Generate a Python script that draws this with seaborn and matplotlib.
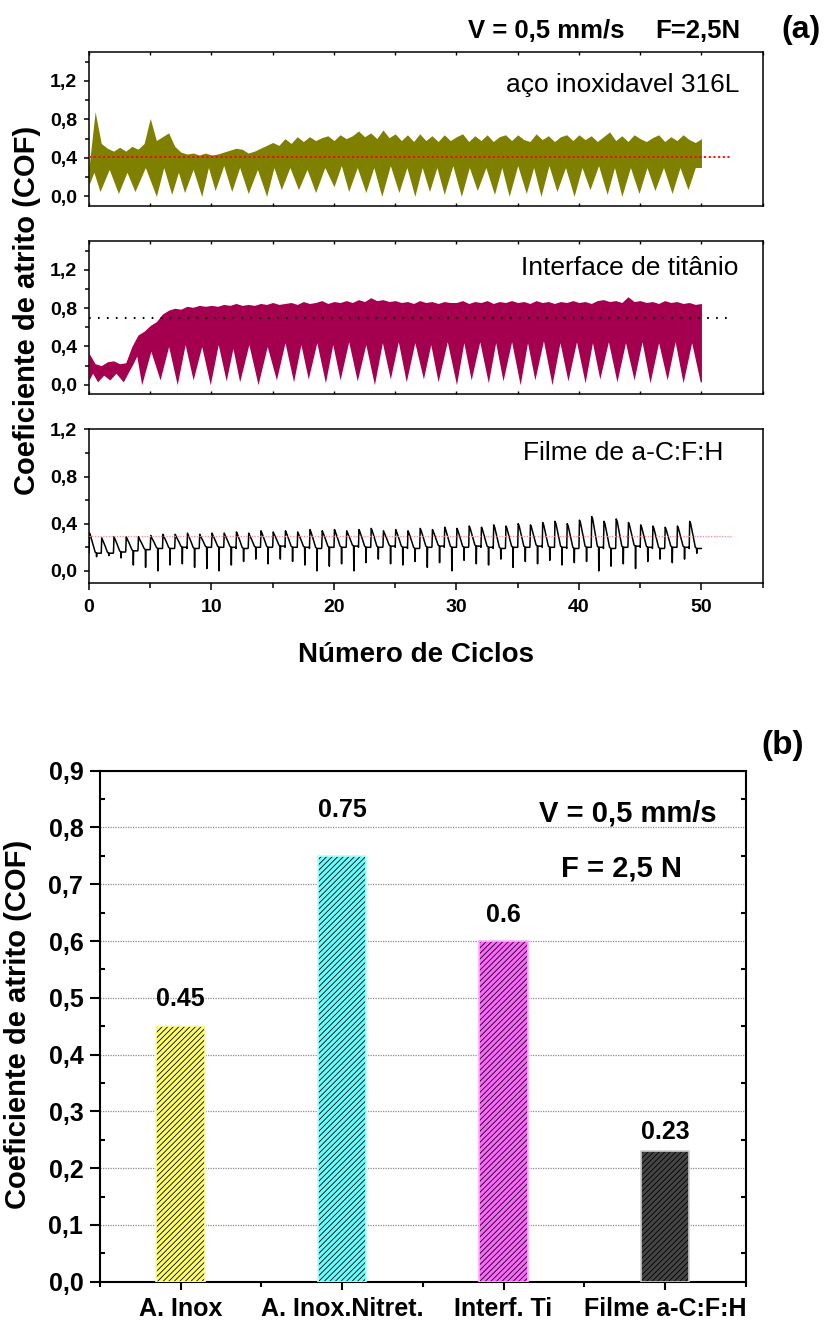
import numpy as np
import pandas as pd
import matplotlib
matplotlib.use("Agg")
import matplotlib.pyplot as plt
from matplotlib.ticker import MultipleLocator, FuncFormatter
import seaborn as sns

# ---------------- data ----------------
# (a) friction coefficient vs. number of cycles
cycle_grid = np.arange(0, 50.01, 0.5)

# aço inoxidável 316L: upper envelope of the COF band (every half cycle)
steel_upper = [
    0.30, 0.88, 0.55, 0.50, 0.47, 0.51, 0.47, 0.52, 0.49, 0.55,
    0.81, 0.58, 0.62, 0.66, 0.52, 0.46, 0.44, 0.45, 0.43, 0.45,
    0.43, 0.44, 0.46, 0.48, 0.50, 0.49, 0.45, 0.47, 0.50, 0.53,
    0.56, 0.53, 0.60, 0.55, 0.62, 0.57, 0.62, 0.58, 0.61, 0.63,
    0.58, 0.64, 0.60, 0.63, 0.68, 0.62, 0.66, 0.60, 0.69, 0.61,
    0.65, 0.58, 0.64, 0.57, 0.65, 0.58, 0.63, 0.57, 0.64, 0.58,
    0.62, 0.65, 0.57, 0.63, 0.58, 0.64, 0.57, 0.62, 0.64, 0.58,
    0.64, 0.59, 0.57, 0.65, 0.59, 0.63, 0.57, 0.62, 0.64, 0.58,
    0.64, 0.59, 0.63, 0.57, 0.62, 0.67, 0.58, 0.63, 0.57, 0.64,
    0.60, 0.57, 0.61, 0.64, 0.57, 0.62, 0.58, 0.64, 0.59, 0.56,
    0.60]
# lower edge of the band: alternating ridges and stick-slip dips
steel_lo_x = [
    0.0, 0.4, 0.9, 1.65, 2.4, 3.1, 3.75, 4.6, 5.5, 6.1, 6.75, 7.3, 7.8, 8.5,
    9.2, 9.75, 10.3, 11.0, 11.65, 12.3, 13.0, 13.75, 14.5, 15.1, 15.7, 16.4,
    17.1, 17.8, 18.5, 19.25, 20.0, 20.6, 21.2, 21.9, 22.6, 23.25, 23.9, 24.6,
    25.3, 25.95, 26.6, 27.2, 27.8, 28.4, 29.0, 29.7, 30.4, 31.05, 31.7, 32.4,
    33.1, 33.7, 34.3, 35.0, 35.7, 36.3, 36.9, 37.55, 38.2, 38.9, 39.6, 40.25,
    40.9, 41.6, 42.3, 42.9, 43.5, 44.2, 44.9, 45.55, 46.2, 46.9, 47.6, 48.25,
    48.9, 49.5, 50.0]
steel_lo_y = [
    0.12, 0.25, 0.05, 0.28, 0.03, 0.25, 0.05, 0.30, 0.00, 0.30, 0.02, 0.25,
    0.04, 0.28, 0.00, 0.30, 0.06, 0.32, 0.05, 0.30, 0.03, 0.28, 0.00, 0.30,
    0.07, 0.30, 0.07, 0.28, 0.04, 0.30, 0.10, 0.32, 0.05, 0.30, 0.04, 0.30,
    0.00, 0.32, 0.04, 0.30, 0.00, 0.30, 0.05, 0.30, 0.02, 0.32, 0.00, 0.30,
    0.06, 0.30, 0.02, 0.30, 0.00, 0.32, 0.03, 0.30, 0.00, 0.32, 0.05, 0.30,
    0.00, 0.30, 0.07, 0.32, 0.02, 0.30, 0.00, 0.30, 0.03, 0.30, 0.06, 0.30,
    0.03, 0.30, 0.07, 0.30, 0.30]

# interface de titânio
ti_upper = [
    0.33, 0.22, 0.20, 0.24, 0.25, 0.22, 0.23, 0.40, 0.52, 0.56,
    0.62, 0.66, 0.74, 0.78, 0.80, 0.79, 0.82, 0.81, 0.83, 0.82,
    0.83, 0.82, 0.84, 0.83, 0.85, 0.83, 0.84, 0.83, 0.85, 0.84,
    0.86, 0.84, 0.85, 0.86, 0.84, 0.87, 0.85, 0.86, 0.88, 0.85,
    0.87, 0.86, 0.88, 0.86, 0.89, 0.87, 0.91, 0.88, 0.89, 0.87,
    0.88, 0.86, 0.87, 0.85, 0.88, 0.86, 0.87, 0.85, 0.87, 0.86,
    0.86, 0.88, 0.85, 0.87, 0.86, 0.88, 0.85, 0.87, 0.86, 0.88,
    0.86, 0.87, 0.85, 0.88, 0.86, 0.87, 0.85, 0.87, 0.86, 0.88,
    0.86, 0.87, 0.85, 0.88, 0.89, 0.87, 0.88, 0.86, 0.92, 0.87,
    0.88, 0.86, 0.87, 0.85, 0.88, 0.86, 0.87, 0.85, 0.86, 0.84,
    0.85]
ti_lo_x = [
    0.0, 0.3, 0.7, 1.2, 1.7, 2.2, 2.8, 3.3, 3.6, 3.9, 4.3, 5.05, 5.8, 6.5,
    7.2, 7.85, 8.5, 9.2, 9.9, 10.55, 11.2, 11.75, 12.3, 13.05, 13.8, 14.55,
    15.3, 16.0, 16.7, 17.3, 17.9, 18.6, 19.3, 19.9, 20.5, 21.2, 21.9, 22.6,
    23.3, 23.95, 24.6, 25.25, 25.9, 26.6, 27.3, 27.9, 28.5, 29.25, 30.0, 30.6,
    31.2, 31.9, 32.6, 33.2, 33.8, 34.5, 35.2, 35.8, 36.4, 37.1, 37.8, 38.45,
    39.1, 39.8, 40.5, 41.1, 41.7, 42.4, 43.1, 43.8, 44.5, 45.15, 45.8, 46.5,
    47.2, 47.85, 48.5, 49.2, 49.9, 50.0]
ti_lo_y = [
    0.05, 0.12, 0.03, 0.10, 0.05, 0.12, 0.03, 0.15, 0.22, 0.30, 0.00, 0.35,
    0.05, 0.40, 0.00, 0.42, 0.05, 0.40, 0.00, 0.42, 0.04, 0.38, 0.03, 0.42,
    0.00, 0.40, 0.05, 0.44, 0.03, 0.42, 0.06, 0.44, 0.02, 0.42, 0.05, 0.45,
    0.04, 0.42, 0.00, 0.44, 0.06, 0.45, 0.03, 0.44, 0.06, 0.42, 0.03, 0.45,
    0.00, 0.44, 0.05, 0.45, 0.02, 0.44, 0.04, 0.45, 0.00, 0.44, 0.05, 0.46,
    0.00, 0.44, 0.04, 0.45, 0.02, 0.44, 0.06, 0.45, 0.03, 0.44, 0.05, 0.45,
    0.02, 0.44, 0.05, 0.45, 0.02, 0.44, 0.03, 0.03]

# filme de a-C:F:H: per-cycle peak, plateau and dip of the stick-slip trace
film_peak = [
    0.32, 0.28, 0.29, 0.29, 0.29, 0.30, 0.31, 0.31, 0.32, 0.31,
    0.32, 0.32, 0.33, 0.32, 0.34, 0.33, 0.34, 0.33, 0.35, 0.34,
    0.35, 0.34, 0.35, 0.36, 0.34, 0.35, 0.34, 0.36, 0.35, 0.37,
    0.36, 0.38, 0.37, 0.39, 0.38, 0.40, 0.39, 0.41, 0.42, 0.40,
    0.43, 0.46, 0.42, 0.44, 0.41, 0.39, 0.38, 0.37, 0.38, 0.42]
film_plateau = [
    0.15, 0.15, 0.16, 0.17, 0.18, 0.19, 0.19, 0.20, 0.19, 0.20,
    0.20, 0.20, 0.19, 0.20, 0.20, 0.21, 0.20, 0.20, 0.19, 0.20,
    0.20, 0.21, 0.20, 0.20, 0.21, 0.20, 0.19, 0.20, 0.21, 0.20,
    0.20, 0.21, 0.20, 0.19, 0.20, 0.20, 0.21, 0.20, 0.20, 0.19,
    0.20, 0.20, 0.19, 0.20, 0.21, 0.20, 0.19, 0.20, 0.20, 0.19]
film_dip = [
    0.12, 0.13, 0.11, 0.05, 0.03, 0.00, 0.05, 0.06, 0.03, 0.02,
    0.00, 0.05, 0.08, 0.10, 0.06, 0.10, 0.08, 0.05, 0.00, 0.04,
    0.06, 0.00, 0.07, 0.10, 0.06, 0.05, 0.08, 0.03, 0.07, 0.00,
    0.09, 0.06, 0.05, 0.10, 0.03, 0.08, 0.06, 0.09, 0.05, 0.07,
    0.08, 0.00, 0.04, 0.06, 0.02, 0.08, 0.10, 0.07, 0.10, 0.15]

# mean COF of each test and the span of its reference line
panel_labels = ["aço inoxidavel 316L", "Interface de titânio", "Filme de a-C:F:H"]
cof_mean = [0.41, 0.70, 0.30]
mean_span = [0.0, 52.5]

# (b) mean friction coefficient per sample
bar_categories = ["A. Inox", "A. Inox.Nitret.", "Interf. Ti", "Filme a-C:F:H"]
bar_values = [0.45, 0.75, 0.6, 0.23]

# ---------------- style ----------------
sns.set_theme(style="ticks")
plt.rcParams["font.family"] = ["Liberation Sans", "DejaVu Sans"]
plt.rcParams["hatch.linewidth"] = 0.6
plt.rcParams["axes.linewidth"] = 1.1
for key in ("text.color", "axes.labelcolor", "xtick.color", "ytick.color",
            "xtick.labelcolor", "ytick.labelcolor", "axes.edgecolor"):
    plt.rcParams[key] = "black"

W, H = 827, 1320
fig = plt.figure(figsize=(W / 100, H / 100), dpi=100)


def box(left, top, right, bottom):
    return [left / W, 1 - bottom / H, (right - left) / W, (bottom - top) / H]


comma = FuncFormatter(lambda v, p: f"{v:.1f}".replace(".", ","))

ax1 = fig.add_axes(box(89, 52, 762.7, 206))
ax2 = fig.add_axes(box(89, 241.3, 762.7, 394.3))
ax3 = fig.add_axes(box(89, 429.3, 762.7, 582.7))
axb = fig.add_axes(box(100, 770.7, 745.7, 1281.7))

steel_color = "#808000"
ti_color = "#A50050"


def draw_band(ax, upper, lo_x, lo_y, color):
    xf = np.linspace(0, 50, 6001)
    top = np.interp(xf, cycle_grid, upper)
    bottom = np.interp(xf, lo_x, lo_y)
    ax.fill_between(xf, bottom, top, color=color, linewidth=0, zorder=1)


def film_trace(peak, plateau, dip):
    phase = [0.0, 0.04, 0.12, 0.30, 0.50, 0.60, 0.62, 0.64, 0.98]
    xs, ys = [], []
    for k, (p, b, d) in enumerate(zip(peak, plateau, dip)):
        xs += [k + f for f in phase]
        ys += [b, p, p - 0.02, (p + b) / 2, b + 0.01, b, d, b, b]
    xs.append(50.0)
    ys.append(plateau[-1])
    return pd.DataFrame({"ciclos": xs, "cof": ys})


draw_band(ax1, steel_upper, steel_lo_x, steel_lo_y, steel_color)
draw_band(ax2, ti_upper, ti_lo_x, ti_lo_y, ti_color)
sns.lineplot(data=film_trace(film_peak, film_plateau, film_dip), x="ciclos", y="cof",
             ax=ax3, color="black", linewidth=1.1, estimator=None, sort=False)

mean_styles = [("#FF0000", 1.3, (1.2, 1.4)), ("black", 1.5, (0.8, 3.5)), ("#FF8C8C", 0.9, (1, 1.2))]
for ax, m, (c, lw, dash) in zip((ax1, ax2, ax3), cof_mean, mean_styles):
    sns.lineplot(x=mean_span, y=[m, m], ax=ax, color=c, linewidth=lw,
                 linestyle=(0, dash), estimator=None, zorder=5)

for i, ax in enumerate((ax1, ax2, ax3)):
    ax.set_xlim(0, 55)
    ax.set_ylim(-0.1, 1.5 if i < 2 else 1.2)
    ax.yaxis.set_major_locator(MultipleLocator(0.4))
    ax.yaxis.set_minor_locator(MultipleLocator(0.2))
    ax.yaxis.set_major_formatter(comma)
    ax.xaxis.set_major_locator(MultipleLocator(10))
    ax.xaxis.set_minor_locator(MultipleLocator(5))
    ax.set_xlabel("")
    ax.set_ylabel("")
    for s in ax.spines.values():
        s.set_visible(True)
        s.set_linewidth(1.1)
        s.set_color("black")
    ax.tick_params(axis="y", which="both", direction="out", left=True, right=False,
                   width=1.1, pad=5, labelsize=14, colors="black")
    ax.tick_params(axis="y", which="major", length=3.6)
    ax.tick_params(axis="y", which="minor", length=3.2)
    for lab in ax.get_yticklabels():
        lab.set_fontweight("bold")
    if i < 2:
        ax.tick_params(axis="x", which="both", direction="in", top=True, bottom=True,
                       length=2.5, width=1.0, labelbottom=False)
    else:
        ax.tick_params(axis="x", which="both", direction="out", bottom=True, top=False,
                       width=1.1, pad=7, labelsize=14, colors="black")
        ax.tick_params(axis="x", which="major", length=4.8)
        ax.tick_params(axis="x", which="minor", length=3.6)
        for lab in ax.get_xticklabels():
            lab.set_fontweight("bold")

label_pos = [(739.3, 91.7), (738.3, 275), (723.3, 460)]
for txt, (px, py) in zip(panel_labels, label_pos):
    fig.text(px / W, 1 - py / H, txt, ha="right", va="baseline", fontsize=19, color="black")

fig.text(468.3 / W, 1 - 38.3 / H, "V = 0,5 mm/s", ha="left", va="baseline",
         fontsize=18.5, fontweight="bold")
fig.text(740.7 / W, 1 - 38.3 / H, "F=2,5N", ha="right", va="baseline",
         fontsize=18.5, fontweight="bold")
fig.text(781.7 / W, 1 - 30 / H, "(a)", ha="left", va="center", fontsize=23, fontweight="bold")
fig.text(27 / W, 1 - 310 / H, "Coeficiente de atrito (COF)", rotation=90,
         ha="center", va="center", fontsize=21, fontweight="bold")
fig.text(416.5 / W, 1 - 662.3 / H, "Número de Ciclos", ha="center", va="baseline",
         fontsize=20, fontweight="bold")

# ---------------- (b) bar chart ----------------
bar_df = pd.DataFrame({"amostra": bar_categories, "cof": bar_values})
bar_fill = ["#FFFF66", "#66FFFF", "#FF66FF", "#454545"]
bar_edge = ["#FFFFA0", "#B0FFFF", "#FFB0FF", "#CCCCCC"]

sns.barplot(data=bar_df, x="amostra", y="cof", hue="amostra", palette=bar_fill,
            width=0.3, saturation=1, legend=False, ax=axb,
            edgecolor="black", linewidth=0, zorder=3)
for p in axb.patches:
    p.set_hatch("//////")
sns.barplot(data=bar_df, x="amostra", y="cof", hue="amostra", palette=bar_edge,
            width=0.3, saturation=1, legend=False, ax=axb, fill=False,
            linewidth=1.2, zorder=4)

label_pads = [0.035, 0.068, 0.034, 0.021]
for i, (v, pad) in enumerate(zip(bar_values, label_pads)):
    axb.text(i, v + pad, f"{v:g}", ha="center", va="baseline",
             fontsize=18, fontweight="bold", zorder=5)

axb.set_xlim(-0.5, 3.5)
axb.set_ylim(0, 0.9)
axb.set_xlabel("")
axb.set_ylabel("")
axb.yaxis.set_major_locator(MultipleLocator(0.1))
axb.yaxis.set_minor_locator(MultipleLocator(0.05))
axb.yaxis.set_major_formatter(comma)
axb.xaxis.set_minor_locator(MultipleLocator(0.5, offset=0.5))
axb.set_axisbelow(True)
axb.grid(axis="y", which="major", linestyle=(0, (1, 1)), color="#8C8C8C", linewidth=0.9)
axb.grid(axis="x", visible=False)
for s in axb.spines.values():
    s.set_visible(True)
    s.set_linewidth(1.5)
    s.set_color("black")
axb.tick_params(axis="y", which="both", direction="out", left=True, width=1.5,
                pad=5, labelsize=18, colors="black")
axb.tick_params(axis="y", which="major", length=7)
axb.tick_params(axis="y", which="minor", length=3.6)
axb.tick_params(axis="y", which="minor", right=True, direction="in", length=3.6)
axb.tick_params(axis="x", which="both", direction="out", bottom=True, top=False,
                width=1.5, pad=5, labelsize=18, colors="black")
axb.tick_params(axis="x", which="major", length=6)
axb.tick_params(axis="x", which="minor", length=3.6)
for lab in axb.get_xticklabels() + axb.get_yticklabels():
    lab.set_fontweight("bold")

fig.text(716.7 / W, 1 - 821.7 / H, "V = 0,5 mm/s", ha="right", va="baseline",
         fontsize=21, fontweight="bold")
fig.text(681.7 / W, 1 - 876.7 / H, "F = 2,5 N", ha="right", va="baseline",
         fontsize=21, fontweight="bold")
fig.text(761.7 / W, 1 - 745 / H, "(b)", ha="left", va="center", fontsize=24, fontweight="bold")
fig.text(18 / W, 1 - 1024 / H, "Coeficiente de atrito (COF)", rotation=90,
         ha="center", va="center", fontsize=21, fontweight="bold")

fig.savefig("out.png", dpi=100)
